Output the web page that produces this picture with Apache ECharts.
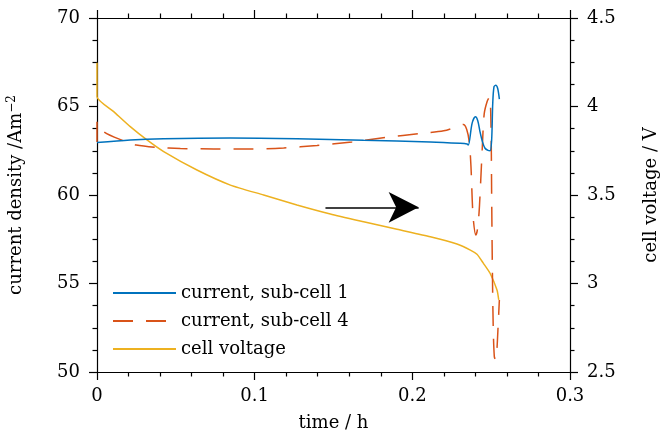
<!DOCTYPE html>
<html>
<head>
<meta charset="utf-8">
<script src="https://cdn.jsdelivr.net/npm/echarts@6/dist/echarts.min.js"></script>
<style>html,body{margin:0;padding:0;background:#fff}#c{width:666px;height:437px}</style>
</head>
<body>
<div id="c"></div>
<script>
// ---- data ----
var seriesNames = ['current, sub-cell 1', 'current, sub-cell 4', 'cell voltage'];
var xTickLabels = ['0', '0.1', '0.2', '0.3'];
var leftTickLabels = ['50', '55', '60', '65', '70'];
var rightTickLabels = ['2.5', '3', '3.5', '4', '4.5'];

// current, sub-cell 1 (A m^-2)
var tCell1 = [0, 0.0211, 0.0423, 0.0846, 0.1268, 0.1691, 0.2114, 0.2302, 0.2347, 0.2355, 0.2379, 0.2400, 0.2415, 0.2429, 0.2445, 0.2461, 0.2480, 0.2493, 0.2503, 0.2510, 0.2518, 0.2529, 0.2541, 0.2552];
var jCell1 = [62.96, 63.11, 63.18, 63.22, 63.18, 63.09, 63.00, 62.92, 62.88, 62.82, 64.05, 64.42, 64.20, 63.58, 63.00, 62.64, 62.52, 62.50, 63.10, 65.18, 66.12, 66.20, 66.03, 65.42];

// current, sub-cell 4 (A m^-2)
var tCell4 = [0, 0, 0.0042, 0.0165, 0.0249, 0.0380, 0.0529, 0.0740, 0.0962, 0.1184, 0.1395, 0.1617, 0.1829, 0.2051, 0.2199, 0.2280, 0.2323, 0.2345, 0.2361, 0.2372, 0.2380, 0.2387, 0.2402, 0.2412, 0.2423, 0.2434, 0.2444, 0.2456, 0.2475, 0.2490, 0.2499, 0.2503, 0.2507, 0.2513, 0.2520, 0.2528, 0.2535, 0.2545, 0.2552];
var jCell4 = [63.00, 64.14, 63.58, 63.07, 62.82, 62.69, 62.63, 62.60, 62.60, 62.66, 62.80, 63.00, 63.25, 63.48, 63.63, 63.85, 63.98, 63.70, 63.00, 61.60, 59.70, 58.60, 57.74, 58.00, 58.98, 60.85, 62.73, 64.60, 65.30, 65.55, 63.86, 60.10, 56.33, 52.56, 50.87, 50.70, 51.07, 52.77, 54.07];

// cell voltage (V)
var tVolt = [0, 0, 0.0106, 0.0211, 0.0317, 0.0423, 0.0634, 0.0846, 0.1057, 0.1268, 0.1480, 0.1691, 0.1903, 0.2114, 0.2283, 0.2368, 0.2410, 0.2450, 0.2493, 0.2537, 0.2548];
var vVolt = [4.247, 4.055, 3.971, 3.886, 3.811, 3.745, 3.641, 3.556, 3.500, 3.444, 3.393, 3.349, 3.306, 3.264, 3.223, 3.189, 3.165, 3.115, 3.058, 2.963, 2.907];

// annotation arrow (time, voltage)
var arrowT = [0.1449, 0.2040];
var arrowV = [3.4305, 3.4305];

function pairs(xs, ys) { return xs.map(function (x, i) { return [x, ys[i]]; }); }

var FONT = 'DejaVu Serif';
var FS = 18;
var colors = ['#0072BD', '#D95319', '#EDB120'];

var chart = echarts.init(document.getElementById('c'), null, { renderer: 'canvas' });

var axisLine = { show: true, onZero: false, lineStyle: { color: '#000', width: 1.2 } };
var tick = { show: true, inside: false, length: 8, lineStyle: { color: '#000', width: 1.2 } };
var minorTick = function (n) { return { show: true, splitNumber: n, length: 4.5, lineStyle: { color: '#000', width: 1.2 } }; };

chart.setOption({
  animation: false,
  color: colors,
  grid: { left: 97, right: 96, top: 18, bottom: 65, containLabel: false, outerBoundsMode: 'none' },
  legend: {
    orient: 'vertical', left: 112, top: 284, padding: 0,
    itemWidth: 63, itemHeight: 14, itemGap: 10,
    itemStyle: { opacity: 0 },
    textStyle: { color: '#000', fontFamily: FONT, fontSize: FS, lineHeight: 18 },
    data: seriesNames
  },
  xAxis: [
    {
      type: 'value', position: 'bottom', min: 0, max: 0.3, interval: 0.1,
      axisLine: axisLine, axisTick: tick, minorTick: minorTick(5), splitLine: { show: false },
      axisLabel: { show: true, margin: 15, fontFamily: FONT, fontSize: FS, color: '#000', formatter: function (v) { var i = Math.round(v / 0.1); return xTickLabels[i]; } },
      name: 'time / h', nameLocation: 'middle', nameGap: 42,
      nameTextStyle: { color: '#000', fontFamily: FONT, fontSize: FS }
    },
    {
      type: 'value', position: 'top', min: 0, max: 0.3, interval: 0.1,
      axisLine: axisLine, axisTick: tick, minorTick: minorTick(5), splitLine: { show: false },
      axisLabel: { show: false }
    }
  ],
  yAxis: [
    {
      type: 'value', position: 'left', min: 50, max: 70, interval: 5,
      axisLine: axisLine, axisTick: tick, minorTick: minorTick(4), splitLine: { show: false },
      axisLabel: { show: true, margin: 17, fontFamily: FONT, fontSize: FS, color: '#000', formatter: function (v) { return leftTickLabels[Math.round((v - 50) / 5)]; } },
      name: 'current density /Am{sup|\u22122}', nameLocation: 'middle', nameGap: 70, nameRotate: 90,
      nameTextStyle: { color: '#000', fontFamily: FONT, fontSize: FS,
        rich: { sup: { fontFamily: FONT, fontSize: 12, color: '#000', padding: [0, 0, 9, 0] } } }
    },
    {
      type: 'value', position: 'right', min: 2.5, max: 4.5, interval: 0.5,
      axisLine: axisLine, axisTick: tick, minorTick: minorTick(4), splitLine: { show: false },
      axisLabel: { show: true, margin: 17, fontFamily: FONT, fontSize: FS, color: '#000', formatter: function (v) { return rightTickLabels[Math.round((v - 2.5) / 0.5)]; } },
      name: 'cell voltage / V', nameLocation: 'middle', nameGap: 72, nameRotate: 90,
      nameTextStyle: { color: '#000', fontFamily: FONT, fontSize: FS }
    }
  ],
  series: [
    {
      name: seriesNames[0], type: 'line', xAxisIndex: 0, yAxisIndex: 0,
      data: pairs(tCell1, jCell1), showSymbol: false, symbol: 'none', smooth: 0.3,
      lineStyle: { color: colors[0], width: 1.5 }, z: 3
    },
    {
      name: seriesNames[1], type: 'line', xAxisIndex: 0, yAxisIndex: 0,
      data: pairs(tCell4, jCell4), showSymbol: false, symbol: 'none', smooth: 0.3,
      lineStyle: { color: colors[1], width: 1.5, type: [20, 13] }, z: 2
    },
    {
      name: seriesNames[2], type: 'line', xAxisIndex: 0, yAxisIndex: 1,
      data: pairs(tVolt, vVolt), showSymbol: false, symbol: 'none', smooth: 0.2,
      lineStyle: { color: colors[2], width: 1.5 }, z: 1,
      markLine: {
        silent: true, symbol: ['none', 'arrow'], symbolSize: [23, 30],
        label: { show: false },
        lineStyle: { color: '#000', width: 1.5, type: 'solid' },
        itemStyle: { color: '#000' },
        data: [[{ coord: [arrowT[0], arrowV[0]] }, { coord: [arrowT[1], arrowV[1]] }]]
      }
    }
  ]
});
</script>
</body>
</html>
